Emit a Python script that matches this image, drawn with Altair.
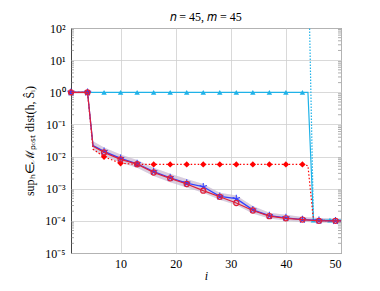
import altair as alt
import pandas as pd

# ---- data ----
main_x = [1, 4, 5, 7, 10, 13, 16, 19, 22, 25, 28, 31, 34, 37, 40, 43, 46, 49, 50]
blue_y = [1, 1, 0.022, 0.0145, 0.0088, 0.006, 0.0034, 0.0022, 0.0015, 0.00115, 0.00058,
          0.00049, 0.00022, 0.000145, 0.000125, 0.00011, 0.000103, 0.0001, 0.0001]
red_y = [1, 1, 0.021, 0.0135, 0.0082, 0.0058, 0.0032, 0.0021, 0.0014, 0.00087, 0.00056,
         0.00036, 0.00021, 0.00014, 0.00012, 0.00011, 0.0001, 0.0001, 0.0001]
band_lo = [0.92, 0.92, 0.016, 0.0105, 0.0065, 0.0045, 0.0025, 0.0016, 0.0011, 0.00075, 0.00045,
           0.00031, 0.00017, 0.000118, 0.000103, 0.000093, 0.000088, 0.000087, 0.000087]
band_hi = [1.08, 1.08, 0.03, 0.019, 0.0115, 0.0078, 0.0045, 0.0029, 0.002, 0.0014, 0.00075,
           0.00062, 0.00029, 0.00018, 0.000155, 0.000133, 0.000122, 0.000118, 0.000118]
main_marks = [1, 4, 7, 10, 13, 16, 19, 22, 25, 28, 31, 34, 37, 40, 43, 46, 49]

cyan_x = [1, 4, 7, 10, 13, 16, 19, 22, 25, 28, 31, 34, 37, 40, 43, 44, 45, 48, 50]
cyan_y = [1, 1, 1, 1, 1, 1, 1, 1, 1, 1, 1, 1, 1, 1, 1, 1, 0.000105, 0.000105, 0.000105]
cyan_marks = [1, 4, 7, 10, 13, 16, 19, 22, 25, 28, 31, 34, 37, 40, 43, 45, 48]

cyd_x = [1, 44, 45, 50]
cyd_y = [40000, 40000, 0.0001, 0.0001]

reddot_x = [1, 4, 5, 7, 10, 13, 16, 19, 22, 25, 28, 31, 34, 37, 40, 43, 44, 45, 50]
reddot_y = [1, 1, 0.017, 0.0098, 0.0062, 0.0057, 0.0057, 0.0057, 0.0057, 0.0057, 0.0057,
            0.0057, 0.0057, 0.0057, 0.0057, 0.0057, 0.0052, 0.000105, 0.0001]
reddot_marks = [1, 4, 7, 10, 13, 16, 19, 22, 25, 28, 31, 34, 37, 40, 43]

y_ticks = [1e-5, 1e-4, 1e-3, 1e-2, 1e-1, 1, 10, 100]
y_tick_labels = ["10⁻⁵", "10⁻⁴", "10⁻³", "10⁻²", "10⁻¹", "10⁰", "10¹", "10²"]
x_ticks = [10, 20, 30, 40, 50]
minor_y = [m * 10.0 ** e for e in range(-5, 2) for m in range(2, 10)]

W, H = 270, 225
FONT = "Liberation Serif"

def df(x, y, marks=None):
    d = pd.DataFrame({"x": x, "y": y})
    if marks is not None:
        d = d[d["x"].isin(marks)]
    return d

xs = alt.Scale(domain=[1, 50], nice=False, zero=False)
ys = alt.Scale(type="log", domain=[1e-5, 1e2], nice=False)

lab_expr = "[" + ",".join("'%s'" % s for s in y_tick_labels) + "][round(log(datum.value)/LN10)+5]"

XAX = alt.Axis(values=x_ticks, title="i", titleFontStyle="italic", grid=True, ticks=False,
               domain=False, labelPadding=5, titlePadding=1, labelFont=FONT, titleFont=FONT,
               labelFontSize=12, titleFontSize=12)
YAX = alt.Axis(values=y_ticks, labelExpr=lab_expr, grid=True, ticks=False, domain=False,
               labelPadding=6, title="supₕ∈ℳₚₒₛₜ dist(h, Ŝᵢ)", titlePadding=8,
               labelFont=FONT, titleFont=FONT, labelFontSize=12, titleFontSize=12)


def X(f="x:Q"):
    return alt.X(f, scale=xs, axis=XAX)


def Y(f="y:Q"):
    return alt.Y(f, scale=ys, axis=YAX)


band_df = pd.DataFrame({"x": main_x, "lo": band_lo, "hi": band_hi})
band = alt.Chart(band_df).mark_area(color="#a9c8e8", opacity=0.55).encode(
    x=X(), y=Y("lo:Q"), y2="hi:Q")
band2 = alt.Chart(band_df).mark_area(color="#f0a0b0", opacity=0.3).encode(
    x=X(), y=Y("lo:Q"), y2="hi:Q")

minor_df = pd.DataFrame({"y": minor_y})
minor_l = alt.Chart(minor_df).mark_rule(color="#777", strokeWidth=0.6).encode(
    y=Y(), x=alt.value(0), x2=alt.value(3))
minor_r = alt.Chart(minor_df).mark_rule(color="#777", strokeWidth=0.6).encode(
    y=Y(), x=alt.value(W - 3), x2=alt.value(W))

CYAN = "#1fb2e8"
cyan_line = alt.Chart(df(cyan_x, cyan_y)).mark_line(color=CYAN, strokeWidth=1.2, clip=True).encode(
    x=X(), y=Y())
cyan_pts = alt.Chart(df(cyan_x, cyan_y, cyan_marks)).mark_point(
    shape="triangle-up", filled=True, color=CYAN, size=30, opacity=1).encode(x=X(), y=Y())
cyd_line = alt.Chart(df(cyd_x, cyd_y)).mark_line(color=CYAN, strokeWidth=1.2, strokeDash=[1.5, 1.5],
                                                 clip=True).encode(x=X(), y=Y())

RED = "#ff0000"
rd_line = alt.Chart(df(reddot_x, reddot_y)).mark_line(color=RED, strokeWidth=1.2, strokeDash=[1.5, 2],
                                                      clip=True).encode(x=X(), y=Y())
rd_pts = alt.Chart(df(reddot_x, reddot_y, reddot_marks)).mark_point(
    shape="diamond", filled=True, color=RED, size=40, opacity=1).encode(x=X(), y=Y())

BLUE = "#3040ff"
STAR = "M0,0L0,-1M0,0L0.95,-0.31M0,0L0.59,0.81M0,0L-0.59,0.81M0,0L-0.95,-0.31"
bl_line = alt.Chart(df(main_x, blue_y)).mark_line(color=BLUE, strokeWidth=1.2, clip=True).encode(
    x=X(), y=Y())
bl_pts = alt.Chart(df(main_x, blue_y, main_marks)).mark_point(
    shape=STAR, filled=False, color=BLUE, size=60, strokeWidth=1.1, opacity=1).encode(x=X(), y=Y())

CRIM = "#e0203a"
rc_line = alt.Chart(df(main_x, red_y)).mark_line(color=CRIM, strokeWidth=1.2, clip=True).encode(
    x=X(), y=Y())
rc_pts = alt.Chart(df(main_x, red_y, main_marks)).mark_point(
    shape="circle", filled=False, color=CRIM, size=26, strokeWidth=1.2, opacity=1).encode(x=X(), y=Y())

chart = alt.layer(
    band, band2, minor_l, minor_r,
    cyd_line, cyan_line, cyan_pts,
    rd_line, rd_pts,
    bl_line, bl_pts,
    rc_line, rc_pts,
).properties(
    width=W, height=H,
    title=alt.TitleParams("𝑛 = 45, 𝑚 = 45", font=FONT, fontSize=12, fontWeight="normal",
                          color="#000", offset=-2),
    autosize=alt.AutoSizeParams(type="none"),
    padding={"left": 63, "top": 20, "right": 31, "bottom": 32},
).configure(font=FONT).configure_view(stroke="#444", strokeWidth=1).configure_axis(
    gridColor="#cfcfcf", gridWidth=0.8, labelColor="#000",
    titleColor="#000", titleFontWeight="normal"
)

chart.save("out.html", embed_options={"renderer": "svg", "actions": False})
